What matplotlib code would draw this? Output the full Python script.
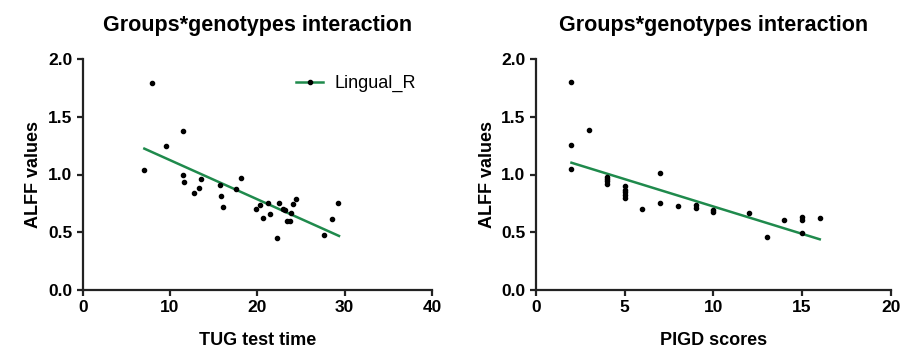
import matplotlib
matplotlib.use("Agg")
import matplotlib.pyplot as plt
import numpy as np

plt.rcParams["font.family"] = ["Liberation Sans", "DejaVu Sans"]

GREEN = "#1f8a4c"
TITLE = "Groups*genotypes interaction"

# Left panel: TUG test time vs ALFF
tug_x = [7.06, 7.9, 9.5, 11.53, 11.53, 11.64, 12.7, 13.28, 13.5, 15.76, 15.8, 16.03,
         17.6, 18.1, 19.9, 20.3, 20.6, 21.2, 21.5, 22.2, 22.5, 22.9, 23.2, 23.4,
         23.7, 23.8, 24.05, 24.4, 27.6, 28.5, 29.2]
tug_y = [1.039, 1.795, 1.25, 1.377, 1.0, 0.932, 0.837, 0.886, 0.958, 0.912, 0.817, 0.719,
         0.877, 0.973, 0.70, 0.733, 0.62, 0.75, 0.66, 0.45, 0.753, 0.70, 0.693, 0.597,
         0.597, 0.67, 0.745, 0.79, 0.479, 0.612, 0.75]
tug_fit_x = [7.06, 29.35]
tug_fit_y = [1.224, 0.468]

# Right panel: PIGD scores vs ALFF
pigd_x = [2, 2, 2, 3, 4, 4, 4, 4, 5, 5, 5, 5, 5, 6, 7, 7, 8, 9, 9, 10, 10,
          12, 13, 14, 15, 15, 15, 16]
pigd_y = [1.80, 1.255, 1.045, 1.382, 0.98, 0.96, 0.94, 0.92, 0.90, 0.87, 0.85, 0.82, 0.80,
          0.704, 1.01, 0.756, 0.727, 0.74, 0.707, 0.695, 0.672,
          0.667, 0.456, 0.603, 0.63, 0.603, 0.49, 0.62]
pigd_fit_x = [2, 16]
pigd_fit_y = [1.102, 0.439]


def style_axes(ax, xmax, xstep, xlabel):
    ax.set_xlim(0, xmax)
    ax.set_ylim(0, 2.0)
    ax.set_xticks(np.arange(0, xmax + 0.1, xstep))
    ax.set_yticks([0.0, 0.5, 1.0, 1.5, 2.0])
    ax.set_yticklabels(["0.0", "0.5", "1.0", "1.5", "2.0"])
    ax.spines[["top", "right"]].set_visible(False)
    for s in ("left", "bottom"):
        ax.spines[s].set_linewidth(1.6)
        ax.spines[s].set_color("#222222")
    ax.tick_params(width=1.6, length=4.5, pad=3, labelsize=12.5, color="#222222")
    for lab in ax.get_xticklabels() + ax.get_yticklabels():
        lab.set_fontweight("bold")
    ax.set_xlabel(xlabel, fontsize=13, fontweight="bold", labelpad=12)
    ax.set_ylabel("ALFF values", fontsize=13, fontweight="bold", labelpad=4)
    ax.set_title(TITLE, fontsize=15.5, fontweight="bold", pad=20)


fig = plt.figure(figsize=(9.01, 3.54), dpi=100)
ax1 = fig.add_axes([82.7 / 901, 1 - 290 / 354, 349.3 / 901, 231 / 354])
ax2 = fig.add_axes([536 / 901, 1 - 290 / 354, 354.7 / 901, 231 / 354])

ax1.scatter(tug_x, tug_y, s=9, color="black", zorder=3)
ax1.plot(tug_fit_x, tug_fit_y, color=GREEN, lw=1.8, zorder=2)
ax1.plot([], [], color=GREEN, lw=1.8, marker="o", markersize=3,
         markerfacecolor="black", markeredgecolor="black", label="Lingual_R")
ax1.legend(loc="upper right", frameon=False, fontsize=13, handlelength=1.5,
           handletextpad=0.6, bbox_to_anchor=(1.0, 1.0))
style_axes(ax1, 40, 10, "TUG test time")

ax2.scatter(pigd_x, pigd_y, s=9, color="black", zorder=3)
ax2.plot(pigd_fit_x, pigd_fit_y, color=GREEN, lw=1.8, zorder=2)
style_axes(ax2, 20, 5, "PIGD scores")

fig.savefig("out.png", dpi=100)
